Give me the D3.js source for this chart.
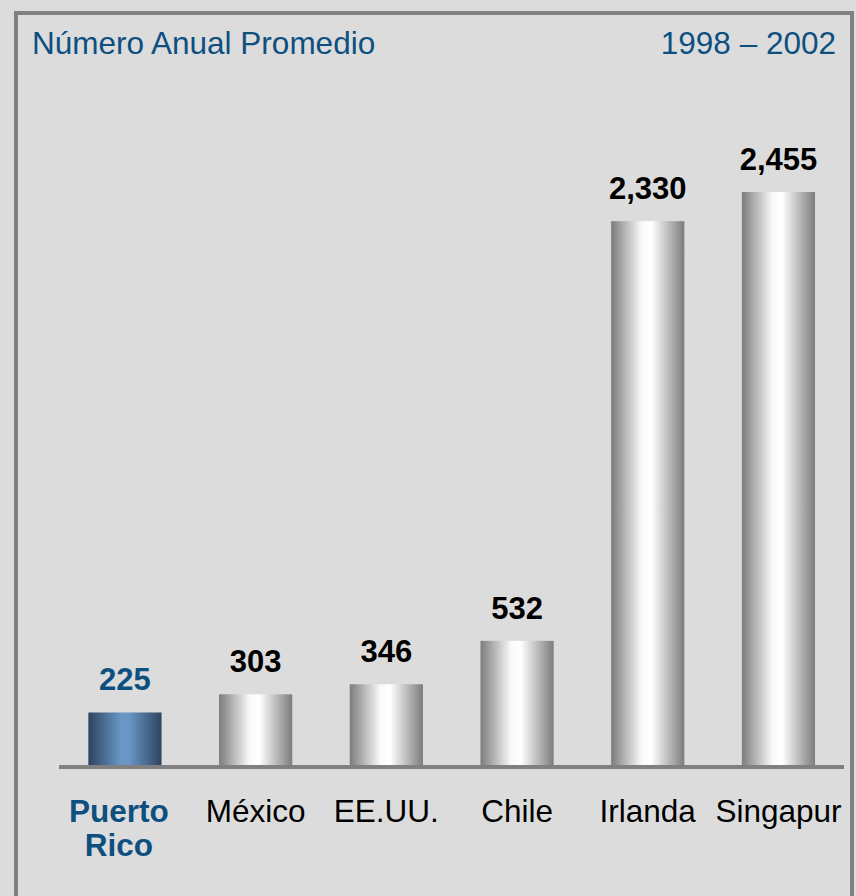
<!DOCTYPE html>
<html>
<head>
<meta charset="utf-8">
<script src="https://cdn.jsdelivr.net/npm/d3@7"></script>
<style>
  html, body { margin: 0; padding: 0; background: #dcdcdc; }
  svg { display: block; font-family: "Liberation Sans", Arial, sans-serif; }
</style>
</head>
<body>
<div id="chart"></div>
<script>
// data
const countries = ["Puerto Rico", "México", "EE.UU.", "Chile", "Irlanda", "Singapur"];
const values = [225, 303, 346, 532, 2330, 2455];
const valueLabels = ["225", "303", "346", "532", "2,330", "2,455"];

const width = 856, height = 896;
const blue = "#0d5080";

const svg = d3.select("#chart").append("svg")
    .attr("width", width)
    .attr("height", height);

let defs = svg.append("defs");

let grey = defs.append("linearGradient").attr("id", "grad-grey")
    .attr("x1", "0%").attr("x2", "100%").attr("y1", "0%").attr("y2", "0%");
grey.append("stop").attr("offset", "0%").attr("stop-color", "#7c7c7c");
grey.append("stop").attr("offset", "42%").attr("stop-color", "#fafafa");
grey.append("stop").attr("offset", "55%").attr("stop-color", "#ffffff");
grey.append("stop").attr("offset", "100%").attr("stop-color", "#7c7c7c");

let blueGrad = defs.append("linearGradient").attr("id", "grad-blue")
    .attr("x1", "0%").attr("x2", "100%").attr("y1", "0%").attr("y2", "0%");
blueGrad.append("stop").attr("offset", "0%").attr("stop-color", "#2e4460");
blueGrad.append("stop").attr("offset", "45%").attr("stop-color", "#6a97c6");
blueGrad.append("stop").attr("offset", "55%").attr("stop-color", "#6a97c6");
blueGrad.append("stop").attr("offset", "100%").attr("stop-color", "#2e4460");

// frame (open at the bottom)
svg.append("rect")
    .attr("x", 16).attr("y", 13)
    .attr("width", 836).attr("height", 900)
    .attr("fill", "#dcdcdc")
    .attr("stroke", "#808080")
    .attr("stroke-width", 4);

svg.append("text")
    .attr("x", 32).attr("y", 54)
    .attr("fill", blue)
    .style("font-size", "31.5px")
    .text("Número Anual Promedio");

svg.append("text")
    .attr("x", 836).attr("y", 54)
    .attr("text-anchor", "end")
    .attr("fill", blue)
    .style("font-size", "31.5px")
    .text("1998 – 2002");

const x = d3.scaleBand()
    .domain(countries)
    .range([59.6, 843.8])
    .paddingInner(0.44)
    .paddingOuter(0.22);

const y = d3.scaleLinear()
    .domain([0, 2455])
    .range([765, 192]);

let bars = svg.selectAll(".bar")
    .data(countries)
    .enter().append("g")
        .attr("class", "bar");

bars.append("rect")
    .attr("x", d => x(d))
    .attr("y", (d, i) => y(values[i]))
    .attr("width", x.bandwidth())
    .attr("height", (d, i) => y(0) - y(values[i]))
    .attr("fill", (d, i) => i === 0 ? "url(#grad-blue)" : "url(#grad-grey)");

bars.append("text")
    .attr("x", d => x(d) + x.bandwidth() / 2)
    .attr("y", (d, i) => y(values[i]) - 22)
    .attr("text-anchor", "middle")
    .attr("fill", (d, i) => i === 0 ? blue : "#000")
    .style("font-size", "31px")
    .style("font-weight", "bold")
    .text((d, i) => valueLabels[i]);

// baseline
svg.append("line")
    .attr("x1", 59).attr("x2", 844)
    .attr("y1", y(0) + 2).attr("y2", y(0) + 2)
    .attr("stroke", "#808080")
    .attr("stroke-width", 4);

// category labels
bars.append("text")
    .attr("x", d => x(d) + x.bandwidth() / 2)
    .attr("y", 822)
    .attr("text-anchor", "middle")
    .attr("fill", (d, i) => i === 0 ? blue : "#000")
    .style("font-size", "31.5px")
    .style("font-weight", (d, i) => i === 0 ? "bold" : "normal")
    .each(function(d) {
        let words = d === "Puerto Rico" ? ["Puerto", "Rico"] : [d];
        let t = d3.select(this);
        words.forEach((w, k) => {
            t.append("tspan")
                .attr("x", x(d) + x.bandwidth() / 2 - (words.length > 1 ? 6 : 0))
                .attr("dy", k === 0 ? 0 : 34)
                .text(w);
        });
    });
</script>
</body>
</html>
